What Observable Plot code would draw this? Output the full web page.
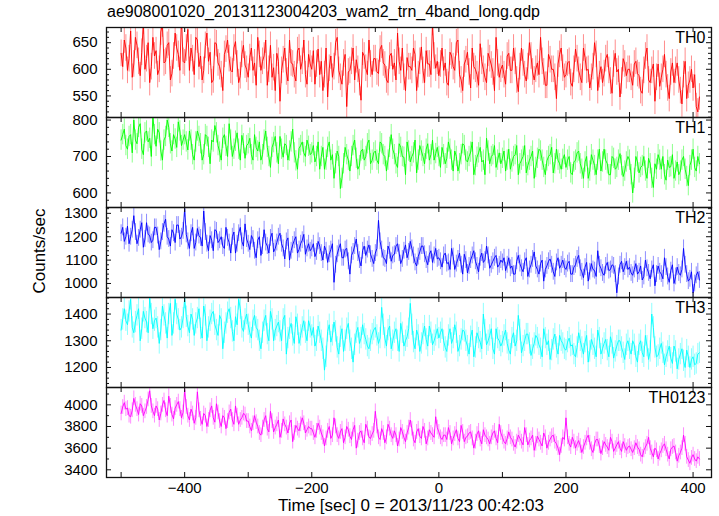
<!DOCTYPE html>
<html><head><meta charset="utf-8">
<script src="https://cdn.jsdelivr.net/npm/d3@7"></script>
<script src="https://cdn.jsdelivr.net/npm/@observablehq/plot@0.6"></script>
<style>
body{margin:0;background:#fff;font-family:"Liberation Sans",Arial,sans-serif}
#chart{position:relative;width:719px;height:516px;background:#fff;overflow:hidden}
.title{position:absolute;left:107px;top:3px;font-size:16px;color:#000;white-space:nowrap}
.xlab{position:absolute;left:106px;width:610px;top:497px;line-height:18px;text-align:center;font-size:17px;white-space:nowrap}
.ylab{position:absolute;left:40px;top:251px;font-size:17px;white-space:nowrap;transform:translate(-50%,-50%) rotate(-90deg)}
</style></head><body><div id="chart"></div>
<script>
const title = "ae908001020_20131123004203_wam2_trn_4band_long.qdp";
const xTitle = "Time [sec] 0 = 2013/11/23 00:42:03";
const yTitle = "Counts/sec";
const tStart = -500, tStep = 2.5;
const bands = ["TH0", "TH1", "TH2", "TH3", "TH0123"];
const colors = ["#ff0000", "#00ff00", "#0000ff", "#00ffff", "#ff00ff"];

const th0 = [
630,605,655,640,598,620,672,585,610,660,645,615,588,632,690,600,620,650,575,605,660,625,635,590,600,670,685,612,615,645,650,580,592,625,668,640,628,598,700,615,
612,640,675,598,640,620,590,660,655,605,625,580,598,645,668,615,632,575,580,650,648,612,605,590,560,628,638,655,620,598,595,640,652,610,575,588,628,645,608,600,
585,622,640,598,612,570,660,628,598,615,625,655,570,600,645,585,603,560,630,615,540,598,618,640,595,578,655,612,610,590,578,635,640,600,615,655,590,572,628,610,
600,635,572,610,638,590,615,560,590,640,548,602,625,585,605,650,660,598,585,572,612,628,530,595,598,615,640,580,618,600,575,542,632,625,602,590,655,610,590,620,
620,595,592,638,645,612,608,580,575,625,630,600,612,580,668,615,598,640,585,560,622,605,605,598,640,628,560,590,615,642,598,575,635,610,610,590,688,625,602,615,
588,610,640,598,612,575,570,632,625,605,598,650,655,590,580,560,610,618,632,595,565,640,605,600,590,570,648,615,600,585,575,630,620,608,595,560,660,612,585,600,
608,590,572,625,630,598,598,640,615,580,558,605,640,612,590,578,605,650,625,595,580,600,612,590,660,615,595,570,570,628,618,600,600,585,545,610,628,640,602,585,
590,612,615,575,568,600,638,620,598,585,575,640,622,598,600,565,585,605,650,628,560,590,605,575,592,620,628,598,578,555,610,630,595,600,548,578,620,610,588,600,
600,585,570,610,615,592,588,560,555,598,625,640,580,575,598,610,540,585,610,568,585,600,628,590,565,545,595,612,575,598,612,580,560,535,590,615,545,570,580,600,
565,590,530,520,548];
const th1 = [
745,760,775,730,720,755,760,710,800,745,735,780,790,720,705,765,770,740,750,700,810,760,728,775,765,715,690,745,755,800,780,735,715,760,748,725,795,770,730,745,
760,740,718,770,745,705,690,740,770,755,735,690,705,760,755,725,680,745,740,785,765,730,712,690,750,760,728,700,790,745,700,720,742,765,720,690,758,735,695,730,
735,750,705,690,760,725,715,740,690,705,745,770,725,700,670,725,738,755,710,680,755,720,698,735,730,690,715,740,775,710,688,665,722,730,740,710,700,745,728,705,
710,730,685,700,740,665,700,725,665,690,725,740,690,705,640,680,715,700,612,640,680,725,705,690,660,700,730,745,695,665,675,715,720,690,700,735,745,680,690,710,
715,690,680,740,735,705,700,660,690,725,760,720,705,680,670,735,725,700,698,650,740,715,685,700,710,745,655,690,730,715,700,680,720,735,690,705,745,690,708,725,
700,670,725,705,680,695,740,720,690,660,715,700,660,680,705,735,730,690,685,700,712,740,650,675,698,710,725,685,690,650,750,715,680,700,705,730,670,690,710,680,
695,715,660,690,720,665,685,700,705,730,650,680,690,700,730,655,675,690,700,715,640,670,695,720,715,690,670,650,688,700,705,725,655,680,720,690,680,665,692,705,
670,690,700,655,650,685,690,710,715,680,665,640,685,700,640,660,705,690,675,650,690,720,660,685,720,690,680,650,650,700,695,665,670,690,708,675,645,660,685,700,
690,650,600,640,700,685,655,670,675,700,660,640,695,680,640,615,680,665,705,690,665,700,650,635,690,670,672,705,640,660,685,650,660,690,700,665,645,620,675,690,
720,670,660,700,680];
const th2 = [
1215,1240,1180,1200,1245,1170,1200,1230,1290,1220,1170,1195,1230,1260,1155,1190,1260,1210,1205,1175,1185,1240,1240,1205,1145,1180,1220,1255,1275,1200,1190,1160,1230,1215,1175,1250,1250,1190,1200,1225,
1320,1210,1180,1150,1215,1240,1150,1175,1235,1205,1195,1160,1310,1220,1170,1140,1205,1185,1140,1230,1225,1175,1185,1200,1160,1150,1240,1195,1175,1130,1200,1220,1130,1170,1215,1240,1180,1160,1255,1190,
1170,1145,1205,1190,1140,1110,1185,1200,1120,1160,1230,1175,1160,1130,1195,1215,1135,1150,1175,1200,1215,1170,1150,1105,1180,1195,1100,1140,1165,1185,1200,1130,1145,1170,1185,1210,1125,1150,1170,1140,
1150,1170,1115,1135,1180,1160,1130,1100,1160,1140,1090,1125,1145,1170,1005,1080,1125,1150,1170,1110,1110,1145,1150,1095,1040,1120,1135,1160,1190,1130,1100,1075,1140,1160,1120,1145,1165,1125,1105,1085,
1130,1150,1270,1180,1145,1110,1105,1085,1160,1140,1095,1120,1125,1160,1170,1130,1085,1105,1140,1165,1110,1135,1180,1150,1120,1090,1075,1115,1135,1160,1160,1125,1100,1080,1125,1140,1090,1120,1150,1105,
1110,1095,1070,1120,1130,1085,1090,1060,1150,1115,1060,1085,1105,1130,1080,1040,1125,1100,1045,1075,1100,1120,1140,1095,1075,1050,1110,1130,1090,1100,1160,1120,1065,1080,1095,1110,1120,1070,1080,1100,
1090,1110,1055,1080,1110,1065,1075,1040,1040,1095,1120,1085,1065,1050,1095,1110,1030,1060,1080,1105,1135,1075,1060,1040,1085,1100,1010,1060,1075,1095,1105,1080,1050,1030,1090,1110,1065,1080,1100,1070,
1060,1085,1095,1040,1040,1070,1080,1105,1120,1065,1050,1025,1070,1090,1010,1050,1085,1060,1055,1030,1140,1080,1065,1045,1035,1075,1090,1055,1060,1080,1075,1040,960,1030,1080,1095,1050,1070,1095,1060,
1070,1045,1035,1060,1085,1040,1050,1075,1015,1030,1100,1065,1045,1020,1060,1080,990,1040,1075,1050,1040,1020,1110,1070,1030,1005,1055,1080,1000,1030,1070,1045,1035,1060,1150,1080,1040,1010,1020,1050,
960,1000,1035,1050,1015];
const th3 = [
1340,1380,1420,1375,1360,1410,1455,1350,1330,1370,1395,1420,1300,1345,1410,1385,1370,1330,1460,1400,1345,1375,1385,1350,1290,1340,1430,1395,1365,1310,1400,1440,1320,1365,1455,1400,1380,1340,1350,1385,
1460,1390,1355,1330,1400,1380,1320,1365,1385,1420,1345,1310,1430,1395,1300,1350,1375,1400,1410,1360,1340,1320,1395,1380,1270,1330,1365,1405,1420,1385,1335,1300,1390,1360,1455,1420,1350,1335,1380,1400,
1360,1330,1310,1375,1395,1350,1340,1300,1270,1330,1375,1395,1325,1300,1410,1380,1300,1340,1355,1370,1335,1300,1380,1395,1250,1310,1345,1365,1320,1290,1390,1360,1290,1320,1350,1375,1330,1300,1375,1350,
1320,1350,1280,1300,1355,1330,1300,1270,1190,1240,1335,1360,1295,1320,1370,1335,1275,1250,1315,1345,1260,1300,1345,1365,1300,1270,1220,1285,1330,1350,1290,1310,1360,1325,1305,1280,1270,1300,1325,1340,
1350,1320,1290,1310,1425,1360,1310,1280,1340,1355,1270,1300,1330,1345,1300,1260,1365,1330,1280,1300,1315,1345,1440,1360,1295,1270,1340,1320,1260,1290,1325,1355,1305,1280,1355,1330,1285,1300,1320,1345,
1310,1330,1345,1300,1275,1260,1320,1345,1290,1310,1360,1330,1260,1280,1305,1340,1335,1300,1280,1250,1315,1340,1240,1275,1330,1310,1295,1270,1400,1340,1285,1300,1320,1345,1270,1250,1345,1310,1300,1280,
1295,1320,1340,1290,1265,1250,1310,1330,1280,1300,1395,1340,1255,1280,1300,1325,1325,1290,1245,1270,1290,1320,1310,1285,1270,1240,1345,1310,1285,1300,1230,1265,1305,1325,1275,1250,1320,1300,1290,1270,
1265,1295,1310,1280,1285,1250,1240,1275,1330,1300,1275,1250,1295,1320,1220,1260,1305,1285,1270,1240,1340,1310,1250,1270,1290,1305,1265,1240,1315,1290,1235,1260,1280,1300,1300,1275,1255,1230,1285,1300,
1270,1250,1300,1285,1240,1220,1285,1300,1255,1240,1320,1280,1230,1260,1400,1350,1275,1240,1245,1270,1290,1255,1210,1240,1260,1280,1235,1215,1280,1260,1195,1230,1250,1270,1225,1200,1265,1240,1200,1230,
1240,1210,1215,1250,1255];
const th0123 = [
3920,3980,4020,3960,3970,3900,3890,3950,4060,4000,3960,3910,4010,3990,3900,3940,3980,4050,4130,3990,3940,3900,3990,3960,3860,3920,4000,4040,3950,3900,4080,3990,3910,3870,3970,4000,4030,3960,3880,3930,
4140,3980,3900,3860,3960,3920,3830,3880,4120,3950,3870,3820,3920,3900,3800,3860,3950,3990,3880,3840,4010,3930,3850,3800,3900,3880,3780,3850,3930,3960,3860,3820,3990,3900,3820,3860,3880,3920,3910,3850,
3850,3800,3760,3830,3900,3840,3800,3740,3720,3790,3860,3900,3780,3750,3940,3850,3750,3790,3820,3860,3700,3760,3870,3820,3790,3740,3830,3860,3660,3740,3810,3780,3760,3820,3880,3830,3740,3770,3800,3780,
3780,3740,3700,3760,3830,3790,3740,3700,3620,3690,3760,3800,3690,3720,3880,3800,3720,3690,3750,3780,3650,3700,3800,3770,3710,3680,3770,3810,3600,3670,3740,3760,3690,3650,3820,3780,3700,3690,3730,3760,
3940,3800,3700,3680,3780,3740,3650,3700,3820,3780,3720,3690,3760,3720,3620,3680,3790,3750,3700,3660,3740,3790,3860,3780,3680,3650,3750,3780,3710,3690,3800,3760,3640,3690,3770,3740,3720,3700,3890,3790,
3750,3700,3680,3720,3720,3680,3790,3740,3640,3690,3730,3770,3690,3660,3810,3750,3660,3700,3710,3740,3750,3690,3600,3660,3730,3760,3680,3640,3770,3720,3700,3680,3640,3700,3740,3760,3690,3650,3820,3740,
3700,3660,3640,3690,3750,3700,3680,3640,3610,3660,3720,3690,3660,3630,3790,3720,3630,3670,3690,3720,3580,3640,3710,3680,3650,3620,3740,3700,3600,3650,3680,3710,3720,3660,3640,3600,3540,3620,3700,3680,
3880,3700,3640,3610,3700,3660,3600,3640,3670,3620,3560,3610,3650,3690,3720,3650,3590,3560,3640,3680,3680,3620,3550,3600,3660,3630,3610,3580,3700,3660,3570,3600,3630,3660,3600,3570,3660,3620,3580,3610,
3620,3590,3560,3600,3650,3610,3590,3540,3520,3580,3610,3640,3700,3600,3560,3520,3600,3580,3500,3550,3580,3620,3640,3590,3540,3500,3590,3610,3620,3560,3480,3530,3560,3600,3720,3640,3520,3490,3460,3510,
3540,3500,3480,3520,3500];

const series = [th0, th1, th2, th3, th0123];
const errors = [25, 28, 36, 40, 68];
const yDomains = [[509.5, 678.5], [560, 807], [940, 1325], [1125, 1462], [3329, 4160]];
const yMajor = [[550, 600, 650], [600, 700, 800], [1000, 1100, 1200, 1300], [1200, 1300, 1400], [3400, 3600, 3800, 4000]];
const yMinorStep = [10, 20, 20, 20, 100];
const xDomain = [-523, 429];
const xMajor = [-500, -400, -300, -200, -100, 0, 100, 200, 300, 400];
const xLabels = [-400, -200, 0, 200, 400];

const W = 719, mL = 106, mR = 8, innerW = W - mL - mR, innerH = 90;
const chart = document.getElementById("chart");

function addDiv(cls, text) {
  const d = document.createElement("div");
  d.className = cls; d.textContent = text; chart.appendChild(d);
}

series.forEach((vals, i) => {
  const data = vals.map((v, k) => ({t: tStart + k * tStep, v, e: errors[i]}));
  const [y0, y1] = yDomains[i];
  const minor = d3.range(Math.ceil(y0 / yMinorStep[i]) * yMinorStep[i], y1, yMinorStep[i])
    .filter(v => !yMajor[i].includes(v));
  const last = i === series.length - 1;
  const mB = last ? 42 : 1;
  const marks = [
    Plot.ruleX(data, {x: "t", y1: d => d.v - d.e, y2: d => d.v + d.e, stroke: colors[i], strokeOpacity: 0.45, strokeWidth: 1, clip: true}),
    Plot.line(data, {x: "t", y: "v", stroke: colors[i], strokeWidth: 0.9, clip: true}),
    Plot.tickY(yMajor[i], {y: d => d, insetRight: innerW - 5, stroke: "#111"}),
    Plot.tickY(yMajor[i], {y: d => d, insetLeft: innerW - 5, stroke: "#111"}),
    Plot.tickY(minor, {y: d => d, insetRight: innerW - 3, stroke: "#111"}),
    Plot.tickY(minor, {y: d => d, insetLeft: innerW - 3, stroke: "#111"}),
    Plot.tickX(xMajor, {x: d => d, insetBottom: innerH - 5, stroke: "#111"}),
    Plot.tickX(xMajor, {x: d => d, insetTop: innerH - 5, stroke: "#111"}),
    Plot.frame({stroke: "#111", strokeWidth: 1.3}),
    Plot.axisY(yMajor[i], {tickSize: 0, tickPadding: 9, fontSize: 15, label: null, tickFormat: d => String(d)}),
    Plot.text([bands[i]], {text: d => d, frameAnchor: "top-right", dx: -6, dy: 4, lineAnchor: "top", fontSize: 16, fill: "#000"})
  ];
  if (last) marks.push(Plot.axisX(xLabels, {tickSize: 0, tickPadding: 5, fontSize: 15, label: null}));
  const svg = Plot.plot({
    width: W,
    height: innerH + 1 + mB,
    marginLeft: mL, marginRight: mR, marginTop: 1, marginBottom: mB,
    style: {background: "transparent", fontFamily: "'Liberation Sans', Arial, sans-serif", color: "#000", overflow: "visible"},
    x: {domain: xDomain, axis: last ? undefined : null},
    y: {domain: yDomains[i]},
    marks
  });
  svg.style.position = "absolute";
  svg.style.top = (26 + i * 90) + "px";
  svg.style.left = "0px";
  chart.appendChild(svg);
});

addDiv("title", title);
addDiv("xlab", xTitle);
addDiv("ylab", yTitle);
</script>
</body></html>
